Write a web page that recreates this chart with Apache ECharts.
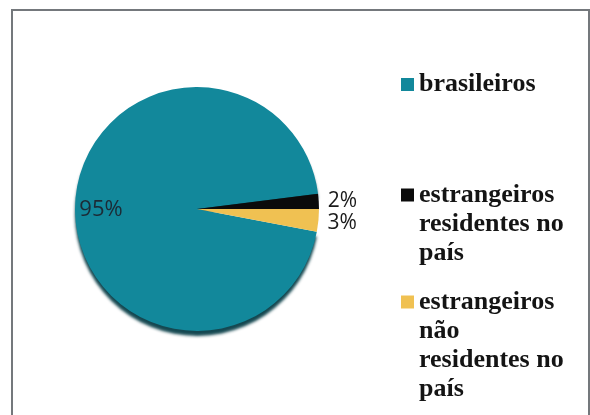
<!DOCTYPE html>
<html>
<head>
<meta charset="utf-8">
<script src="https://cdn.jsdelivr.net/npm/echarts@6/dist/echarts.min.js"></script>
<style>
  html, body { margin: 0; padding: 0; background: #ffffff; }
  #chart { width: 590px; height: 415px; }
</style>
</head>
<body>
<div id="chart"></div>
<script>
// Origem dos participantes (%)
const categories = [
  'brasileiros',
  'estrangeiros residentes no país',
  'estrangeiros não residentes no país'
];
const legendLines = [
  ['brasileiros'],
  ['estrangeiros', 'residentes no', 'país'],
  ['estrangeiros', 'não', 'residentes no', 'país']
];
const shares = [95, 2, 3];
const sliceColors = ['#12889b', '#0b0b0b', '#f0c152'];

const LINE = 29;
const markerCenters = [84.5, 195, 302];

const legendText = {
  fontFamily: 'Liberation Serif',
  fontWeight: 'bold',
  fontSize: 26,
  color: '#141414',
  lineHeight: LINE
};

// one legend block per entry; leading empty lines keep the marker level
// with the first line of a wrapped label (legend text is middle-aligned)
const legends = categories.map((name, i) => {
  const n = legendLines[i].length;
  return {
    data: [name],
    orient: 'vertical',
    left: 401,
    top: markerCenters[i] - (2 * n - 1) * LINE / 2,
    padding: 0,
    itemWidth: 13,
    itemHeight: 13,
    itemGap: 0,
    icon: 'rect',
    selectedMode: false,
    formatter: () => '\n'.repeat(n - 1) + legendLines[i].join('\n'),
    textStyle: legendText
  };
});

const chart = echarts.init(document.getElementById('chart'), null, { renderer: 'canvas' });

chart.setOption({
  backgroundColor: '#ffffff',
  animation: false,
  graphic: [{
    type: 'rect',
    silent: true,
    shape: { x: 12, y: 10, width: 577, height: 430 },
    style: { fill: null, stroke: '#74787c', lineWidth: 2 }
  }],
  legend: legends,
  series: [{
    type: 'pie',
    center: [197, 209],
    radius: 122,
    startAngle: -10.8,
    clockwise: true,
    avoidLabelOverlap: false,
    silent: true,
    labelLine: { show: false, length: 0, length2: 0 },
    label: {
      show: true,
      position: 'outside',
      distanceToLabelLine: 9,
      formatter: p => p.value + '%',
      fontFamily: 'Open Sans',
      fontSize: 21,
      color: '#1a1a1a'
    },
    labelLayout: p => {
      if (p.dataIndex === 0) return { dx: -32, dy: 3 };
      if (p.dataIndex === 2) return { dy: 3 };
      return {};
    },
    data: categories.map((name, i) => {
      const item = { name, value: shares[i], itemStyle: { color: sliceColors[i] } };
      if (i === 0) {
        item.itemStyle.shadowColor = 'rgba(8, 62, 72, 0.95)';
        item.itemStyle.shadowBlur = 3;
        item.itemStyle.shadowOffsetY = 5;
        item.label = { position: 'inside', fontSize: 22, color: '#1c2a35' };
      }
      return item;
    })
  }]
});
</script>
</body>
</html>
